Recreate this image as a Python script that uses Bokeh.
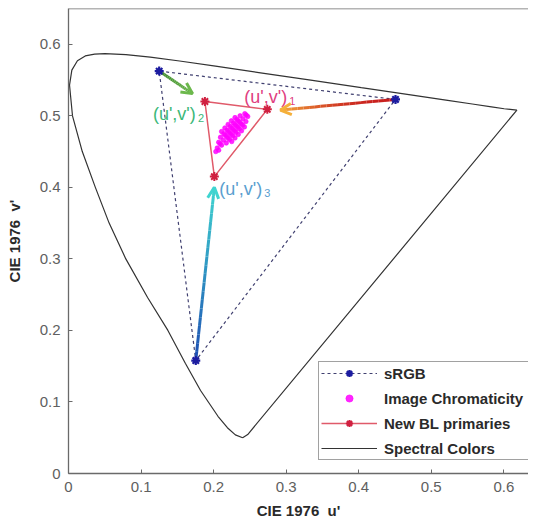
import numpy as np
from bokeh.plotting import figure
from bokeh.models import (Range1d, FixedTicker, Span, Arrow, OpenHead, Legend,
                          LegendItem, ColumnDataSource)
from bokeh.core.properties import value
from bokeh.embed import file_html
from bokeh.resources import INLINE

# ---------------- data ----------------
# spectral locus (u', v')
locus_u = [0.240, 0.230, 0.219, 0.206, 0.182, 0.161, 0.137, 0.109, 0.079, 0.056,
           0.037, 0.019, 0.0055, 0.0014, 0.0046, 0.0123, 0.0231, 0.036, 0.0501,
           0.0792, 0.1127, 0.1531, 0.2026, 0.2623, 0.3315, 0.4035, 0.4692, 0.5203,
           0.5565, 0.583, 0.6005, 0.618, 0.247, 0.240]
locus_v = [0.050, 0.054, 0.064, 0.080, 0.116, 0.154, 0.200, 0.246, 0.300, 0.350,
           0.400, 0.450, 0.500, 0.543, 0.5638, 0.577, 0.5837, 0.5861, 0.5868,
           0.5856, 0.5821, 0.5766, 0.5694, 0.5604, 0.5501, 0.5393, 0.5296, 0.5219,
           0.5165, 0.5125, 0.5099, 0.508, 0.0545, 0.050]

# sRGB primaries R, G, B
srgb_u = [0.4507, 0.1250, 0.1754]
srgb_v = [0.5229, 0.5625, 0.1579]

# new backlight primaries 1, 2, 3
bl_u = [0.274, 0.188, 0.201]
bl_v = [0.509, 0.520, 0.415]

# arrow tips (from sRGB primary toward new primary)
tip_u = [0.292, 0.171, 0.201]
tip_v = [0.508, 0.531, 0.400]

# image chromaticity samples
img_u = [0.209, 0.211, 0.207,
         0.2135, 0.2175, 0.2095,
         0.218, 0.222, 0.214, 0.225, 0.211, 0.220, 0.216,
         0.2225, 0.2265, 0.2185, 0.2295, 0.2155, 0.2245, 0.2205,
         0.227, 0.231, 0.223, 0.234, 0.220, 0.229, 0.225,
         0.2315, 0.2355, 0.2275, 0.2385, 0.2245, 0.2335, 0.2295,
         0.236, 0.240, 0.232, 0.2425, 0.2295, 0.238, 0.234,
         0.2405, 0.2445, 0.2365,
         0.245, 0.247, 0.243,
         0.205, 0.203, 0.207]
img_v = [0.461, 0.459, 0.463,
         0.466, 0.462, 0.470,
         0.471, 0.467, 0.475, 0.464, 0.478, 0.469, 0.473,
         0.476, 0.472, 0.480, 0.469, 0.483, 0.474, 0.478,
         0.481, 0.477, 0.485, 0.474, 0.488, 0.479, 0.483,
         0.486, 0.482, 0.490, 0.479, 0.493, 0.484, 0.488,
         0.491, 0.487, 0.495, 0.4845, 0.4975, 0.489, 0.493,
         0.496, 0.492, 0.500,
         0.501, 0.499, 0.503,
         0.455, 0.450, 0.452]

tick_values = [0, 0.1, 0.2, 0.3, 0.4, 0.5, 0.6]
tick_labels = ["0", "0.1", "0.2", "0.3", "0.4", "0.5", "0.6"]
legend_labels = ["sRGB", "Image Chromaticity", "New BL primaries", "Spectral Colors"]
vertex_text = ["(u',v')", "(u',v')", "(u',v')"]
vertex_sub = ["1", "2", "3"]

# ---------------- styles ----------------
FONT = "Liberation Sans"
arrow_c0 = ["#c81e1e", "#3f8a2f", "#1e4fb4"]
arrow_c1 = ["#f5b03a", "#6cb84c", "#3fd4d0"]
arrow_gamma = [2.2, 1.0, 1.0]
label_colors = ["#e0407f", "#3cb878", "#5aa0d0"]
main_xoff = [-23, -52, 5]
main_yoff = [-12, 12, 12]
sub_xoff = [22, -7, 50]
sub_yoff = [-8, 16, 16]

p = figure(width=528, height=522, output_backend="svg", toolbar_location=None,
           x_range=Range1d(0, 0.634), y_range=Range1d(0, 0.65),
           min_border_left=68, min_border_right=0, min_border_top=8,
           min_border_bottom=49)
p.outline_line_color = None
p.grid.visible = False
p.background_fill_color = "white"
p.border_fill_color = "white"

for ax in (p.xaxis, p.yaxis):
    ax.ticker = FixedTicker(ticks=tick_values)
    ax.major_label_overrides = dict(zip(tick_values, tick_labels))
    ax.major_tick_in = 4
    ax.major_tick_out = 0
    ax.minor_tick_line_color = None
    ax.axis_line_color = "#6a6a6a"
    ax.axis_line_width = 1.3
    ax.major_tick_line_color = "#6a6a6a"
    ax.major_label_text_font = FONT
    ax.major_label_text_font_size = "15px"
    ax.major_label_text_color = "#606060"
    ax.axis_label_text_font = FONT
    ax.axis_label_text_font_size = "15px"
    ax.axis_label_text_font_style = "bold"
    ax.axis_label_text_color = "#2a2a2a"

p.xaxis.axis_label = "CIE 1976\u00a0 u'"
p.yaxis.axis_label = "CIE 1976\u00a0 v'"
p.xaxis.major_label_standoff = 8
p.xaxis.axis_label_standoff = 7
p.yaxis.major_label_standoff = 8
p.yaxis.axis_label_standoff = 14

p.add_layout(Span(location=0.65, dimension="width", line_color="#6a6a6a",
                  line_width=1.3))

# spectral locus
r_locus = p.line(locus_u, locus_v, line_color="#333333", line_width=1.2)

# sRGB triangle
su = srgb_u + [srgb_u[0]]
sv = srgb_v + [srgb_v[0]]
r_srgb_line = p.line(su, sv, line_color="#404070", line_width=1.2, line_dash="3 3")


def hx(c):
    return [int(c[i:i + 2], 16) for i in (1, 3, 5)]


def blend(c0, c1, t):
    a, b = hx(c0), hx(c1)
    return "#%02x%02x%02x" % tuple(int(round(a[k] + (b[k] - a[k]) * t)) for k in range(3))


# gradient arrows
nseg = 20
xs, ys, cols = [], [], []
for i in range(3):
    x0, y0, x1, y1 = srgb_u[i], srgb_v[i], tip_u[i], tip_v[i]
    for k in range(nseg):
        t0, t1 = k / nseg, (k + 1) / nseg
        xs.append([x0 + (x1 - x0) * t0, x0 + (x1 - x0) * t1])
        ys.append([y0 + (y1 - y0) * t0, y0 + (y1 - y0) * t1])
        cols.append(blend(arrow_c0[i], arrow_c1[i], ((k + 0.5) / nseg) ** arrow_gamma[i]))
p.multi_line(xs, ys, line_color=cols, line_width=3)
for i in range(3):
    p.add_layout(Arrow(x_start=srgb_u[i], y_start=srgb_v[i], x_end=tip_u[i], y_end=tip_v[i],
                       line_alpha=0,
                       end=OpenHead(size=11, line_color=arrow_c1[i], line_width=3)))

# new BL triangle
bu = bl_u + [bl_u[0]]
bv = bl_v + [bl_v[0]]
r_bl_line = p.line(bu, bv, line_color="#e05a6a", line_width=1.5)

# image chromaticity
r_img = p.scatter(img_u, img_v, marker="circle", size=4.5, fill_color="#ff00ff",
                  line_color="#ff00ff", fill_alpha=0.85, line_alpha=0.6)

# markers
r_bl_pts = p.scatter(bl_u, bl_v, marker="asterisk", size=9, line_color="#d02040",
                     line_width=2)
r_srgb_pts = p.scatter(srgb_u, srgb_v, marker="asterisk", size=9, line_color="#1c1ca0",
                       line_width=2.2)

# vertex labels
src = ColumnDataSource(dict(x=bl_u, y=bl_v, t=vertex_text, s=vertex_sub, c=label_colors,
                            mx=main_xoff, my=main_yoff, sx=sub_xoff, sy=sub_yoff))
p.text(x="x", y="y", text="t", text_color="c", x_offset="mx", y_offset="my",
       source=src, text_font=value(FONT), text_font_size="18px",
       text_align="left", text_baseline="alphabetic")
p.text(x="x", y="y", text="s", text_color="c", x_offset="sx", y_offset="sy",
       source=src, text_font=value(FONT), text_font_size="11px",
       text_align="left", text_baseline="alphabetic")

legend = Legend(items=[
    LegendItem(label=legend_labels[0], renderers=[r_srgb_line, r_srgb_pts]),
    LegendItem(label=legend_labels[1], renderers=[r_img]),
    LegendItem(label=legend_labels[2], renderers=[r_bl_line, r_bl_pts]),
    LegendItem(label=legend_labels[3], renderers=[r_locus]),
], location=(250, 13))
legend.label_text_font = FONT
legend.label_text_font_style = "bold"
legend.label_text_font_size = "15px"
legend.label_text_color = "#2a2a2a"
legend.glyph_width = 56
legend.glyph_height = 18
legend.label_height = 18
legend.label_width = 170
legend.spacing = 7
legend.padding = 2
legend.margin = 0
legend.label_standoff = 7
legend.border_line_color = "#444444"
legend.border_line_width = 1.2
legend.background_fill_alpha = 1
p.add_layout(legend)

open("out.html", "w").write(file_html(p, INLINE))
